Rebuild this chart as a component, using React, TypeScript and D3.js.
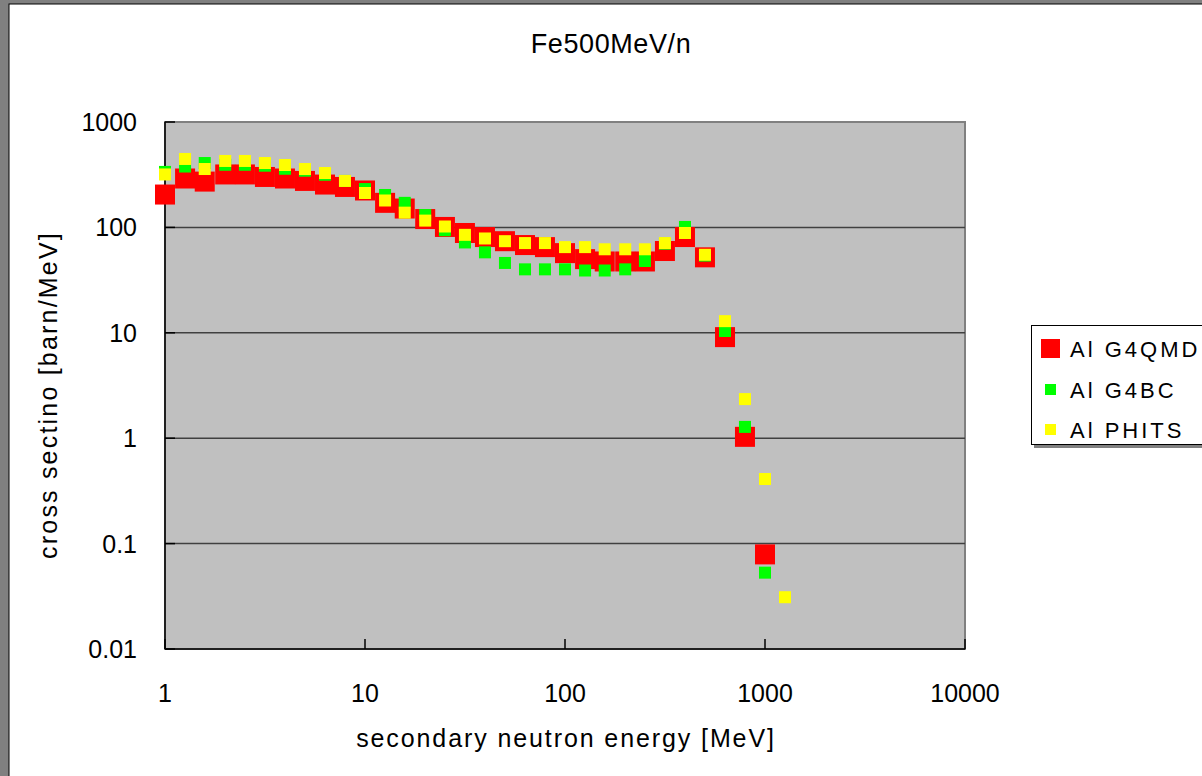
import React, { useRef, useEffect } from "react";
import * as d3 from "d3";

// secondary neutron energy bins [MeV]
const energies = [
  1, 1.26, 1.58, 2, 2.51, 3.16, 3.98, 5.01, 6.31, 7.94, 10, 12.6, 15.8, 20,
  25.1, 31.6, 39.8, 50.1, 63.1, 79.4, 100, 126, 158, 200, 251, 316, 398, 501,
  631, 794, 1000, 1259,
];

// cross section [barn/MeV]
const g4qmd = [
  205, 291, 272, 318, 318, 301, 291, 276, 255, 242, 224, 171, 151, 120, 101,
  88.5, 81, 74, 68, 65, 57, 50, 47.5, 47.5, 47.5, 59.7, 81, 52, 9.1, 1.03,
  0.079,
];
const g4bc = [
  336, 378, 408, 393, 393, 385, 360, 345, 316, 276, 231, 203, 171, 131, 94,
  72, 58, 46, 40, 40, 40, 39, 39, 40, 48, 70, 101, 54, 10.4, 1.28, 0.053,
];
const phits = [
  318, 446, 358, 427, 427, 408, 391, 358, 328, 276, 212, 180, 138, 116, 102,
  85, 78.5, 74, 71, 71, 65, 65, 62, 62, 62, 71, 88.5, 55, 12.9, 2.35, 0.41,
  0.031,
];

const xTicks = [1, 10, 100, 1000, 10000];
const yTicks = [0.01, 0.1, 1, 10, 100, 1000];

const seriesNames = ["Al G4QMD", "Al G4BC", "Al PHITS"];
const seriesColors = ["#ff0000", "#00ff00", "#ffff00"];
const markerSizes = [20, 12, 12];

const FONT = "'Liberation Sans', Arial, sans-serif";

const App = () => {
  const ref = useRef<SVGSVGElement>(null);

  useEffect(() => {
    const svg = d3.select(ref.current);
    svg.selectAll("*").remove();

    const left = 165, right = 965, top = 122, bottom = 649;
    const x = d3.scaleLog().domain([1, 10000]).range([left, right]);
    const y = d3.scaleLog().domain([0.01, 1000]).range([bottom, top]);

    // window frame
    svg.append("rect").attr("x", 0).attr("y", 0).attr("width", 1202).attr("height", 776).attr("fill", "#808080");
    svg.append("rect").attr("x", 9).attr("y", 4).attr("width", 1200).attr("height", 780)
      .attr("fill", "#ffffff").attr("stroke", "#000").attr("stroke-width", 1);

    // plot area
    svg.append("rect").attr("x", left).attr("y", top).attr("width", right - left).attr("height", bottom - top)
      .attr("fill", "#c0c0c0").attr("stroke", "#808080").attr("stroke-width", 2);

    // gridlines
    svg.append("g").selectAll("line").data(yTicks.slice(1, -1)).join("line")
      .attr("x1", left).attr("x2", right)
      .attr("y1", (d) => y(d)).attr("y2", (d) => y(d))
      .attr("stroke", "#404040").attr("stroke-width", 1.5);

    // axes
    svg.append("line").attr("x1", left).attr("x2", left).attr("y1", top).attr("y2", bottom)
      .attr("stroke", "#000").attr("stroke-width", 1.5);
    svg.append("line").attr("x1", left).attr("x2", right).attr("y1", bottom).attr("y2", bottom)
      .attr("stroke", "#000").attr("stroke-width", 1.5);

    svg.append("g").selectAll("line").data(yTicks).join("line")
      .attr("x1", left).attr("x2", left + 10)
      .attr("y1", (d) => y(d)).attr("y2", (d) => y(d))
      .attr("stroke", "#000").attr("stroke-width", 1.5);
    svg.append("g").selectAll("line").data(xTicks).join("line")
      .attr("x1", (d) => x(d)).attr("x2", (d) => x(d))
      .attr("y1", bottom).attr("y2", bottom - 10)
      .attr("stroke", "#000").attr("stroke-width", 1.5);

    // tick labels
    svg.append("g").selectAll("text").data(yTicks).join("text")
      .attr("x", 137).attr("y", (d) => y(d)).attr("dy", "0.36em")
      .attr("text-anchor", "end").attr("font-family", FONT).attr("font-size", 25)
      .text((d) => String(d));
    svg.append("g").selectAll("text").data(xTicks).join("text")
      .attr("x", (d) => x(d)).attr("y", 702)
      .attr("text-anchor", "middle").attr("font-family", FONT).attr("font-size", 25)
      .text((d) => String(d));

    // titles
    svg.append("text").attr("x", 611).attr("y", 53).attr("text-anchor", "middle")
      .attr("font-family", FONT).attr("font-size", 27).attr("letter-spacing", 0.6)
      .text("Fe500MeV/n");
    svg.append("text").attr("x", 566).attr("y", 747).attr("text-anchor", "middle")
      .attr("font-family", FONT).attr("font-size", 25).attr("letter-spacing", 1.9)
      .text("secondary neutron energy [MeV]");
    svg.append("text").attr("transform", "translate(57,395) rotate(-90)").attr("text-anchor", "middle")
      .attr("font-family", FONT).attr("font-size", 25).attr("letter-spacing", 2.2)
      .text("cross sectino [barn/MeV]");

    // data markers
    const allSeries = [g4qmd, g4bc, phits];
    allSeries.forEach((vals, i) => {
      const s = markerSizes[i];
      svg.append("g").selectAll("rect").data(vals).join("rect")
        .attr("x", (d, j) => x(energies[j]) - s / 2)
        .attr("y", (d) => y(d) - s / 2)
        .attr("width", s).attr("height", s)
        .attr("fill", seriesColors[i]);
    });

    // legend
    const lg = svg.append("g");
    lg.append("rect").attr("x", 1034).attr("y", 328).attr("width", 200).attr("height", 120).attr("fill", "#808080");
    lg.append("rect").attr("x", 1031.5).attr("y", 325.5).attr("width", 200).attr("height", 119)
      .attr("fill", "#fff").attr("stroke", "#000").attr("stroke-width", 1);
    const rowY = [348.5, 389.5, 429.5];
    const legSizes = [19, 11, 11];
    seriesNames.forEach((name, i) => {
      lg.append("rect").attr("x", 1050.5 - legSizes[i] / 2).attr("y", rowY[i] - legSizes[i] / 2)
        .attr("width", legSizes[i]).attr("height", legSizes[i]).attr("fill", seriesColors[i]);
      lg.append("text").attr("x", 1070).attr("y", rowY[i] + 8)
        .attr("font-family", FONT).attr("font-size", 22).attr("letter-spacing", 3)
        .text(name);
    });
  }, []);

  return (
    <svg
      ref={ref}
      width={1202}
      height={776}
      style={{ position: "absolute", left: 0, top: 0, display: "block" }}
    ></svg>
  );
};

export default App;
